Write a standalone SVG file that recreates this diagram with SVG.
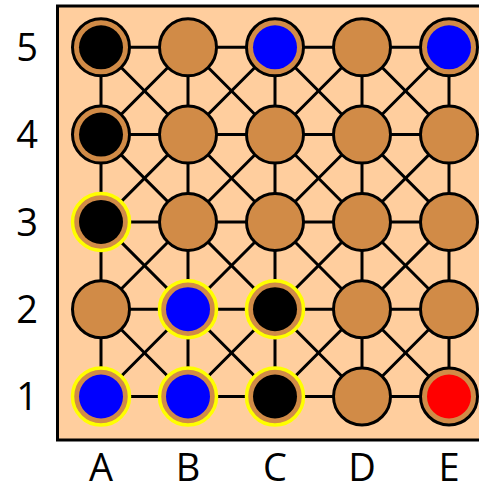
<svg xmlns="http://www.w3.org/2000/svg" width="479" height="486" viewBox="0 0 479 486">
<style>
.lbl{font-family:"Open Sans","Noto Sans",sans-serif;font-size:38px;fill:#000;text-anchor:middle}
.e{stroke:#000;stroke-width:3;fill:none}
.n{fill:#D18B47;stroke:#000;stroke-width:3}
.s{fill:#D18B47;stroke:#FFFF00;stroke-width:3.5}
.k{fill:#000}
.b{fill:#0000FF}
.r{fill:#FF0000}
</style>
<rect x="57.5" y="6" width="440" height="434" fill="#FFCE9E" stroke="#000" stroke-width="3"/>
<g id="connectors" class="e">
<path d="M101 47.3H449M101 134.6H449M101 221.9H449M101 309.2H449M101 396.5H449"/>
<path d="M101 47.3V396.5M188 47.3V396.5M275 47.3V396.5M362 47.3V396.5M449 47.3V396.5"/>
<path d="M101 47.3L449 396.5M101 134.6L362 396.5M101 221.9L275 396.5M101 309.2L188 396.5M188 47.3L449 309.2M275 47.3L449 221.9M362 47.3L449 134.6"/>
<path d="M449 47.3L101 396.5M362 47.3L101 309.2M275 47.3L101 221.9M188 47.3L101 134.6M449 134.6L188 396.5M449 221.9L275 396.5M449 309.2L362 396.5"/>
</g>
<g id="A5"><circle class="n" cx="101" cy="47.3" r="28.5"/><circle class="k" cx="101" cy="47.3" r="22"/></g>
<g id="B5"><circle class="n" cx="188" cy="47.3" r="28.5"/></g>
<g id="C5"><circle class="n" cx="275" cy="47.3" r="28.5"/><circle class="b" cx="275" cy="47.3" r="22"/></g>
<g id="D5"><circle class="n" cx="362" cy="47.3" r="28.5"/></g>
<g id="E5"><circle class="n" cx="449" cy="47.3" r="28.5"/><circle class="b" cx="449" cy="47.3" r="22"/></g>
<g id="A4"><circle class="n" cx="101" cy="134.6" r="28.5"/><circle class="k" cx="101" cy="134.6" r="22"/></g>
<g id="B4"><circle class="n" cx="188" cy="134.6" r="28.5"/></g>
<g id="C4"><circle class="n" cx="275" cy="134.6" r="28.5"/></g>
<g id="D4"><circle class="n" cx="362" cy="134.6" r="28.5"/></g>
<g id="E4"><circle class="n" cx="449" cy="134.6" r="28.5"/></g>
<g id="A3"><circle class="s" cx="101" cy="221.9" r="28.5"/><circle class="k" cx="101" cy="221.9" r="22"/></g>
<g id="B3"><circle class="n" cx="188" cy="221.9" r="28.5"/></g>
<g id="C3"><circle class="n" cx="275" cy="221.9" r="28.5"/></g>
<g id="D3"><circle class="n" cx="362" cy="221.9" r="28.5"/></g>
<g id="E3"><circle class="n" cx="449" cy="221.9" r="28.5"/></g>
<g id="A2"><circle class="n" cx="101" cy="309.2" r="28.5"/></g>
<g id="B2"><circle class="s" cx="188" cy="309.2" r="28.5"/><circle class="b" cx="188" cy="309.2" r="22"/></g>
<g id="C2"><circle class="s" cx="275" cy="309.2" r="28.5"/><circle class="k" cx="275" cy="309.2" r="22"/></g>
<g id="D2"><circle class="n" cx="362" cy="309.2" r="28.5"/></g>
<g id="E2"><circle class="n" cx="449" cy="309.2" r="28.5"/></g>
<g id="A1"><circle class="s" cx="101" cy="396.5" r="28.5"/><circle class="b" cx="101" cy="396.5" r="22"/></g>
<g id="B1"><circle class="s" cx="188" cy="396.5" r="28.5"/><circle class="b" cx="188" cy="396.5" r="22"/></g>
<g id="C1"><circle class="s" cx="275" cy="396.5" r="28.5"/><circle class="k" cx="275" cy="396.5" r="22"/></g>
<g id="D1"><circle class="n" cx="362" cy="396.5" r="28.5"/></g>
<g id="E1"><circle class="n" cx="449" cy="396.5" r="28.5"/><circle class="r" cx="449" cy="396.5" r="22"/></g>
<g id="labels">
<text class="lbl" x="27" y="61">5</text>
<text class="lbl" x="27" y="148">4</text>
<text class="lbl" x="27" y="235.5">3</text>
<text class="lbl" x="27" y="322.5">2</text>
<text class="lbl" x="27" y="410">1</text>
<text class="lbl" x="101" y="481">A</text>
<text class="lbl" x="188" y="481">B</text>
<text class="lbl" x="275" y="481">C</text>
<text class="lbl" x="362" y="481">D</text>
<text class="lbl" x="449" y="481">E</text>
</g>
</svg>
